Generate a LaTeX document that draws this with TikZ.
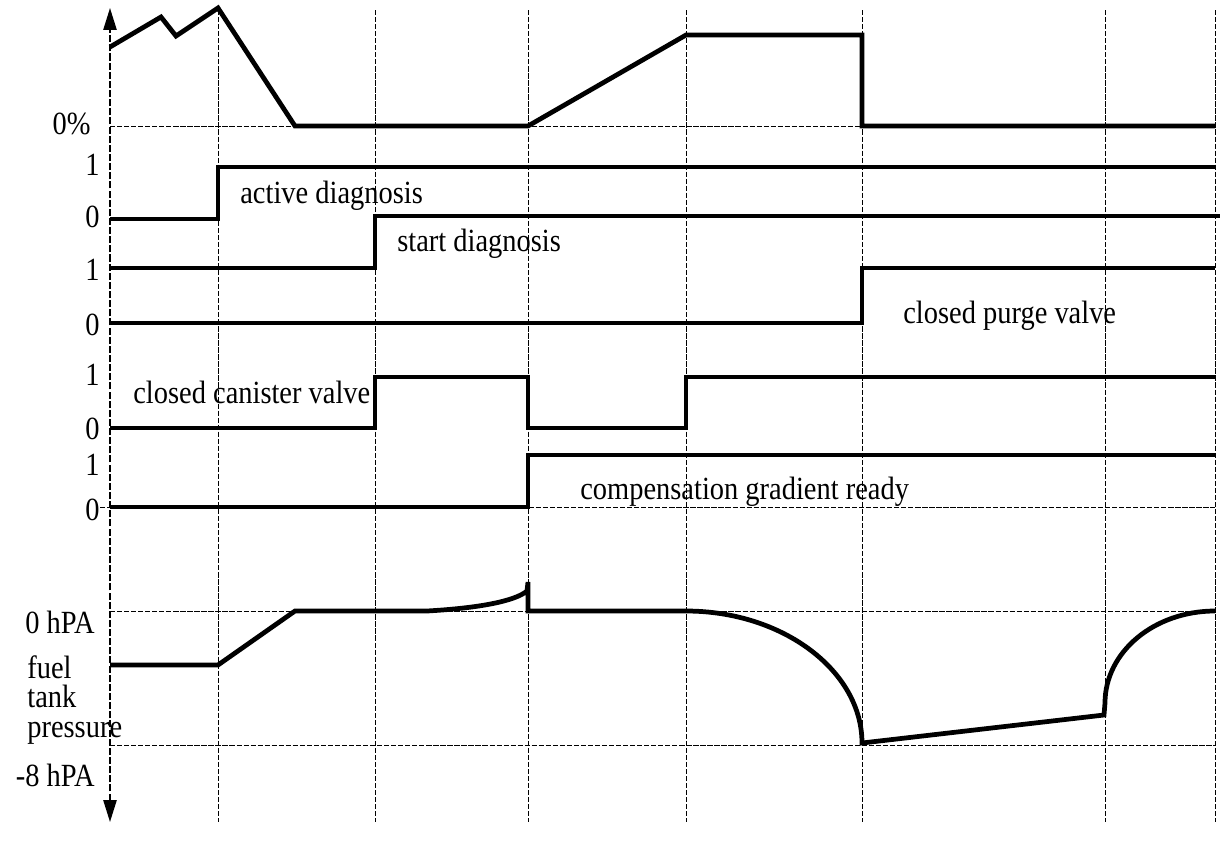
\documentclass[tikz,border=0pt]{standalone}
\usepackage{fontspec}
\setmainfont{Liberation Serif}[FakeStretch=0.88]
\usetikzlibrary{arrows.meta,positioning,calc}

\begin{document}
\begin{tikzpicture}[x=0.02cm, y=-0.02cm,
    sig/.style={line width=2.7pt, line join=miter},
    gridline/.style={line width=0.5pt, dash pattern=on 3pt off 1pt},
    lvl/.style={anchor=east, inner sep=0pt},
    txt/.style={anchor=west, inner sep=0pt},
    font=\fontsize{18.4}{17}\selectfont]

    \useasboundingbox (0,0) rectangle (1232,840);

    % Grid
    \foreach \x in {218,375,528,686,862,1105,1215}
      \draw[gridline] (\x,10) -- (\x,822);
    \draw[gridline] (110,126) -- (862,126);
    \draw[gridline] (100,507) -- (1215,507);
    \draw[gridline] (110,611) -- (1215,611);
    \draw[gridline] (110,745) -- (1215,745);

    % Axis
    \coordinate (axtop) at (110,8);
    \coordinate (axbot) at (110,822);
    \draw[line width=1.1pt, dash pattern=on 4pt off 1.2pt,
      {Triangle[length=12.5pt,width=7.5pt]}-{Triangle[length=12.5pt,width=7.5pt]}] (axbot) -- (axtop);

    % Signals
    \draw[sig] (110,47) -- (161,17) -- (176,36) -- (218,8) -- (295,126) -- (528,126)
      -- (686,35) -- (862,35) -- (862,126) -- (1215,126);
    \draw[sig] (110,219) -- (218,219) -- (218,167) -- (1215,167);
    \draw[sig] (110,268) -- (375,268) -- (375,216) -- (1220,216);
    \draw[sig] (110,323) -- (862,323) -- (862,268) -- (1215,268);
    \draw[sig] (110,428) -- (375,428) -- (375,377) -- (528,377) -- (528,428)
      -- (686,428) -- (686,377) -- (1215,377);
    \draw[sig] (110,507) -- (528,507) -- (528,455) -- (1215,455);
    \draw[sig] (110,665) -- (218,665) -- (295,611) -- (427,611)
      .. controls (480,608) and (515,601) .. (527,591) -- (528,582) -- (528,611) -- (686,611)
      .. controls (783,611) and (862,671) .. (862,743) -- (1104,715) -- (1105,703)
      .. controls (1105,652) and (1154,611) .. (1215,611);

    % Levels
    \node[lvl] (pct) at (91,124) {0\%};
    \node[lvl] (act1) at (100,165) {1};
    \node[lvl] (act0) at (100,217) {0};
    \node[lvl] (start1) at (100,270) {1};
    \node[lvl] (purge0) at (100,325) {0};
    \node[lvl] (can1) at (100,375) {1};
    \node[lvl] (can0) at (100,429) {0};
    \node[lvl] (comp1) at (100,465) {1};
    \node[lvl] (comp0) at (100,510) {0};
    \node[lvl] (hpa0) at (95,622) {0 hPA};
    \node[lvl] (hpa8) at (95,775) {-8 hPA};
    \node[anchor=west, align=left, inner sep=0pt] (tank) at (27,700) {fuel\\tank\\pressure};

    % Labels
    \node[txt] (actdiag) at (240,196) {active diagnosis};
    \node[txt] (startdiag) at (397,244) {start diagnosis};
    \node[txt] (purge) at (903,316) {closed purge valve};
    \node[txt] (canister) at (133,392) {closed canister valve};
    \node[txt] (compgrad) at (580,492) {compensation gradient ready};

\end{tikzpicture}
\end{document}
